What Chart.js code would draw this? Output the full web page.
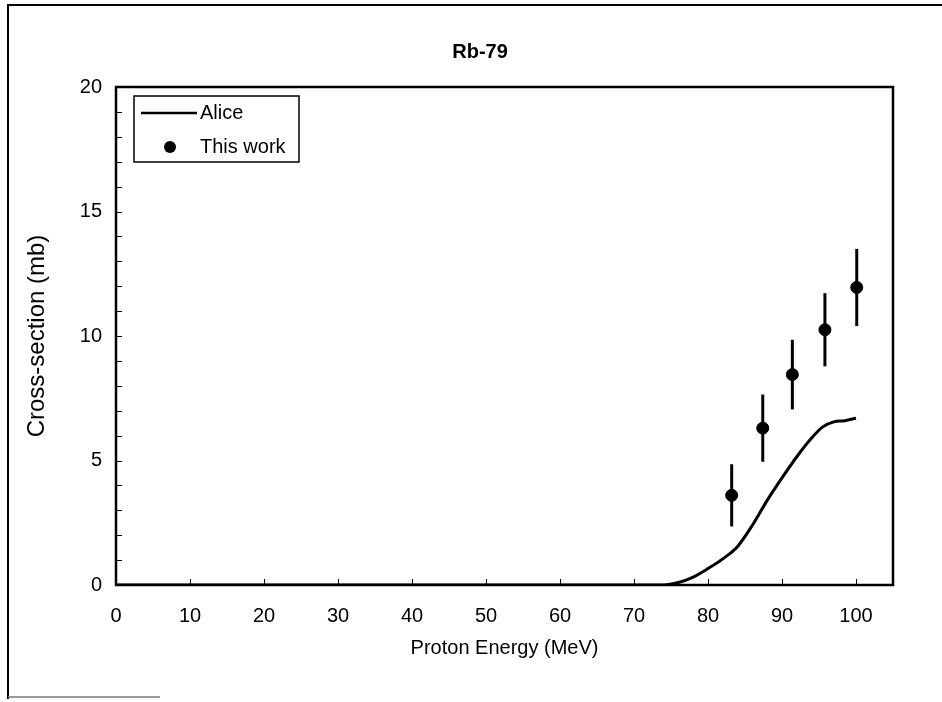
<!DOCTYPE html>
<html>
<head>
<meta charset="utf-8">
<script src="https://cdn.jsdelivr.net/npm/chart.js@4/dist/chart.umd.min.js"></script>
<style>
  html, body { margin: 0; padding: 0; background: #fff; }
  #wrap { width: 942px; height: 702px; }
</style>
</head>
<body>
<div id="wrap"><canvas id="myChart" width="942" height="702"></canvas></div>
<script>
// Alice calculation (theory curve)
const aliceEnergy = [0, 20, 40, 60, 74, 76, 78, 80, 82, 84, 86, 88, 90, 92, 94, 95.5, 97, 98.5, 100];
const aliceSigma  = [0, 0, 0, 0, 0, 0.1, 0.32, 0.66, 1.05, 1.55, 2.4, 3.4, 4.3, 5.15, 5.9, 6.35, 6.55, 6.6, 6.7];

// This work (measured points with error bars)
const workEnergy = [83.2, 87.4, 91.4, 95.8, 100.1];
const workSigma  = [3.6, 6.3, 8.45, 10.25, 11.95];
const workError  = [1.25, 1.35, 1.4, 1.47, 1.55];

const xTicks = [0, 10, 20, 30, 40, 50, 60, 70, 80, 90, 100];
const yTicks = [0, 5, 10, 15, 20];

const chartTitle = 'Rb-79';

const FONT = "'Liberation Sans', Arial, sans-serif";

// title, error bars, inward tick marks, plot frame, outer frame and legend
const decorations = {
    id: 'decorations',
    afterDatasetsDraw(chart) {
        const ctx = chart.ctx;
        const x = chart.scales.x, y = chart.scales.y;
        const area = chart.chartArea;
        ctx.save();

        // title
        ctx.fillStyle = '#000';
        ctx.font = 'bold 20px ' + FONT;
        ctx.textAlign = 'center';
        ctx.textBaseline = 'middle';
        ctx.fillText(chartTitle, 480, 52);

        // error bars
        ctx.strokeStyle = '#000';
        ctx.lineWidth = 3;
        workEnergy.forEach((e, i) => {
            const px = x.getPixelForValue(e);
            ctx.beginPath();
            ctx.moveTo(px, y.getPixelForValue(workSigma[i] - workError[i]));
            ctx.lineTo(px, y.getPixelForValue(workSigma[i] + workError[i]));
            ctx.stroke();
        });

        // inward ticks
        ctx.lineWidth = 1;
        for (let v = 1; v < 20; v++) {
            const py = Math.round(y.getPixelForValue(v)) + 0.5;
            ctx.beginPath();
            ctx.moveTo(area.left, py);
            ctx.lineTo(area.left + 6, py);
            ctx.stroke();
        }
        xTicks.forEach(v => {
            const px = Math.round(x.getPixelForValue(v)) + 0.5;
            ctx.beginPath();
            ctx.moveTo(px, area.bottom);
            ctx.lineTo(px, area.bottom - 6);
            ctx.stroke();
        });

        // plot frame
        ctx.lineWidth = 2.5;
        ctx.strokeRect(area.left, area.top, area.right - area.left, area.bottom - area.top);

        // outer frame (scanned page edge)
        ctx.lineWidth = 2;
        ctx.beginPath();
        ctx.moveTo(8, 699);
        ctx.lineTo(8, 5);
        ctx.lineTo(942, 5);
        ctx.stroke();
        ctx.strokeStyle = '#777';
        ctx.lineWidth = 1.5;
        ctx.beginPath();
        ctx.moveTo(8, 697);
        ctx.lineTo(160, 697);
        ctx.stroke();

        // legend
        const ds = chart.data.datasets;
        ctx.strokeStyle = '#000';
        ctx.lineWidth = 1.5;
        ctx.fillStyle = '#fff';
        ctx.fillRect(134, 96, 165, 66);
        ctx.strokeRect(134, 96, 165, 66);
        ctx.lineWidth = 2.5;
        ctx.beginPath();
        ctx.moveTo(141, 113);
        ctx.lineTo(197, 113);
        ctx.stroke();
        ctx.fillStyle = '#000';
        ctx.beginPath();
        ctx.arc(170, 147, 6, 0, Math.PI * 2);
        ctx.fill();
        ctx.font = '20px ' + FONT;
        ctx.textBaseline = 'middle';
        ctx.textAlign = 'left';
        ctx.fillText(ds[0].label, 200, 113);
        ctx.fillText(ds[1].label, 200, 147);

        ctx.restore();
    }
};

const ctx = document.getElementById('myChart').getContext('2d');
const myChart = new Chart(ctx, {
    type: 'scatter',
    data: {
        datasets: [
            {
                label: 'Alice',
                data: aliceEnergy.map((e, i) => ({ x: e, y: aliceSigma[i] })),
                showLine: true,
                borderColor: '#000',
                borderWidth: 3,
                pointRadius: 0,
                cubicInterpolationMode: 'monotone',
                fill: false,
            },
            {
                label: 'This work',
                data: workEnergy.map((e, i) => ({ x: e, y: workSigma[i] })),
                showLine: false,
                backgroundColor: '#000',
                borderColor: '#000',
                pointRadius: 6,
                pointStyle: 'circle',
            },
        ],
    },
    options: {
        responsive: false,
        animation: false,
        layout: { padding: { left: 0, right: 49, top: 87, bottom: 0 } },
        scales: {
            x: {
                type: 'linear',
                min: 0,
                max: 105,
                afterBuildTicks: s => { s.ticks = xTicks.map(v => ({ value: v })); },
                afterFit: s => { s.height = 117; },
                grid: { display: false, drawTicks: false },
                border: { display: false },
                ticks: { padding: 19, color: '#000', font: { family: FONT, size: 20 } },
                title: {
                    display: true,
                    text: 'Proton Energy (MeV)',
                    color: '#000',
                    font: { family: FONT, size: 20 },
                    padding: { top: 42, bottom: 42 },
                },
            },
            y: {
                min: 0,
                max: 20,
                afterBuildTicks: s => { s.ticks = yTicks.map(v => ({ value: v })); },
                afterFit: s => { s.width = 116; },
                grid: { display: false, drawTicks: false },
                border: { display: false },
                ticks: { padding: 14, color: '#000', font: { family: FONT, size: 20 } },
                title: {
                    display: true,
                    text: 'Cross-section (mb)',
                    color: '#000',
                    font: { family: FONT, size: 24 },
                    padding: { top: 23, bottom: 23 },
                },
            },
        },
        plugins: {
            legend: { display: false },
            tooltip: { enabled: false },
            title: { display: false },
        },
    },
    plugins: [decorations],
});
</script>
</body>
</html>
